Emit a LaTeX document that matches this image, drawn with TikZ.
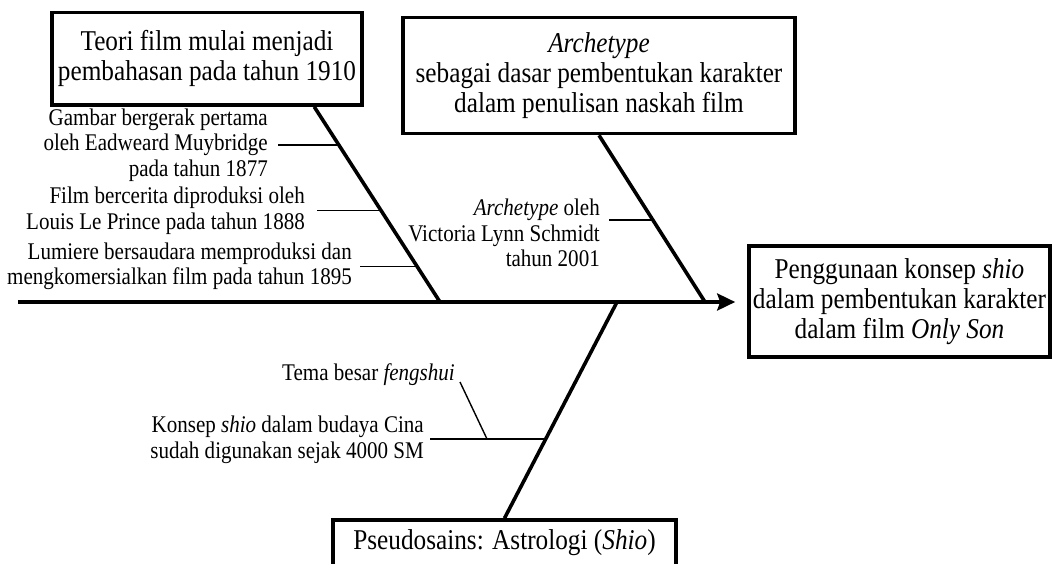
\documentclass[tikz,border=0pt]{standalone}
\usepackage{fontspec}
\setmainfont{Liberation Serif}[FakeStretch=0.88]
\usetikzlibrary{arrows.meta,calc}
\begin{document}
\begin{tikzpicture}[x=1pt,y=-1pt,
  box/.style={draw, line width=3.6pt, align=center, inner sep=0pt, font=\fontsize{28.7}{30}\selectfont},
  note/.style={align=right, inner sep=0pt, anchor=east, font=\fontsize{23.9}{25.5}\selectfont},
  bone/.style={line width=3.6pt},
  twig/.style={line width=1.4pt},
  spine/.style={line width=3.6pt, -{Stealth[length=18pt,width=17pt,inset=3pt]}}]
\useasboundingbox (0,0) rectangle (1052,563);
\clip (0,0) rectangle (1052,563);

% boxes
\node[box, minimum width=310pt, minimum height=92.5pt] (b1) at (207,58.75)
  {Teori film mulai menjadi\\pembahasan pada tahun 1910};
\node[box, minimum width=392pt, minimum height=116pt] (b2) at (599,75.5)
  {\textit{Archetype}\\sebagai dasar pembentukan karakter\\dalam penulisan naskah film};
\node[box, minimum width=301pt, minimum height=111pt] (b3) at (899.5,301.5)
  {Penggunaan konsep \textit{shio}\\dalam pembentukan karakter\\dalam film \textit{Only Son}};
\node[box, minimum width=343pt, minimum height=46pt] (b4) at (504.5,543)
  {Pseudosains: Astrologi (\textit{Shio})};

% notes
\node[note] (tA) at (268,145) {Gambar bergerak pertama\\oleh Eadweard Muybridge\\pada tahun 1877};
\node[note] (tB) at (305,210.5) {Film bercerita diproduksi oleh\\Louis Le Prince pada tahun 1888};
\node[note] (tC) at (352,266.5) {Lumiere bersaudara memproduksi dan\\mengkomersialkan film pada tahun 1895};
\node[note] (tD) at (600,233) {\textit{Archetype} oleh\\Victoria Lynn Schmidt\\tahun 2001};
\node[note] (tE) at (455,375) {Tema besar \textit{fengshui}};
\node[note] (tF) at (424,440) {Konsep \textit{shio} dalam budaya Cina\\sudah digunakan sejak 4000 SM};

% spine and junctions
\coordinate (tail) at (18,302);
\coordinate (j1) at (440,302);
\coordinate (j2) at (705,302);
\coordinate (j3) at (617,302);
\draw[spine] (tail) -- ([xshift=-12pt]b3.west |- tail);

% bones
\draw[bone] ($(b1.south west)!0.842!(b1.south east)$) -- (j1);
\draw[bone] (b2.south) -- (j2);
\draw[bone] (b4.north) -- (j3);

% twig ends on bones
\coordinate (a1) at (338.8,145);
\coordinate (a2) at (381,210.5);
\coordinate (a3) at (417.6,266.5);
\coordinate (d1) at (652.6,220);
\coordinate (f1) at (546.6,439);
\coordinate (e1) at (487,439);

\draw[twig] ([xshift=10pt]tA.east) -- (a1);
\draw[twig] ([xshift=12pt]tB.east) -- (a2);
\draw[twig] ([xshift=8pt]tC.east) -- (a3);
\draw[twig] ($(tD.east)+(9,-13)$) -- (d1);
\draw[twig] ($(tF.east)+(6,-1)$) -- (f1);
\draw[twig] ($(tE.east)+(5,7)$) -- (e1);
\end{tikzpicture}
\end{document}
